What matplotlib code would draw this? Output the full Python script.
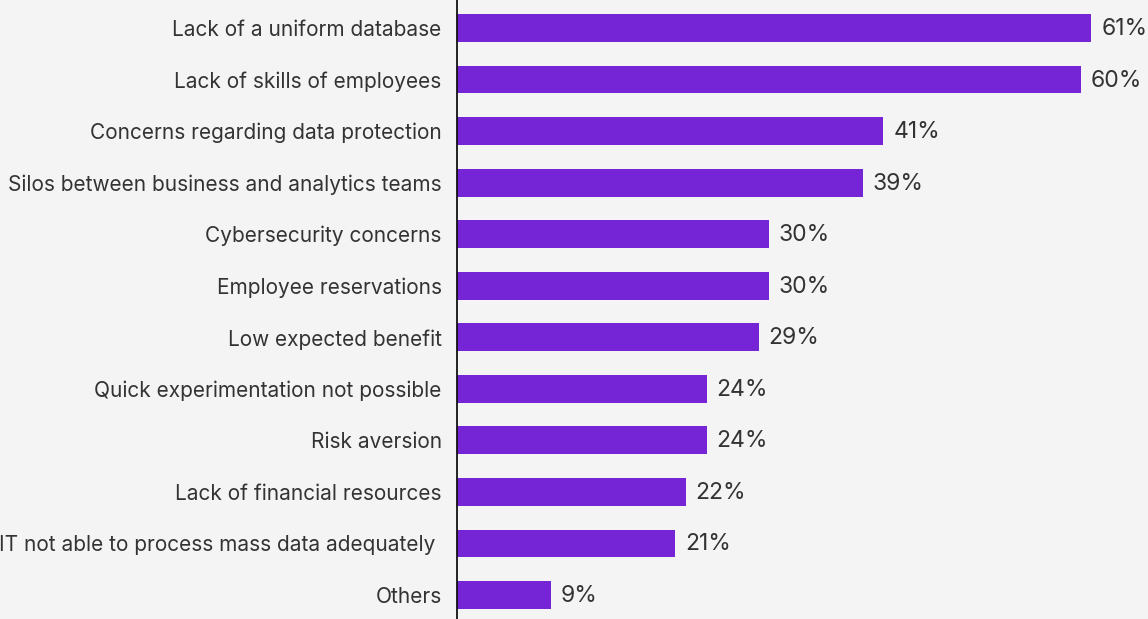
import matplotlib.pyplot as plt

categories = [
    "Lack of a uniform database",
    "Lack of skills of employees",
    "Concerns regarding data protection",
    "Silos between business and analytics teams",
    "Cybersecurity concerns",
    "Employee reservations",
    "Low expected benefit",
    "Quick experimentation not possible",
    "Risk aversion",
    "Lack of financial resources",
    "IT not able to process mass data adequately ",
    "Others",
]
values = [61, 60, 41, 39, 30, 30, 29, 24, 24, 22, 21, 9]

bg = "#f4f4f4"
bar_color = "#7524d6"
text_color = "#333333"

plt.rcParams['font.family'] = ['Inter', 'DejaVu Sans']

fig = plt.figure(figsize=(11.48, 6.19), dpi=100, facecolor=bg)
ax = fig.add_axes([457 / 1148, 0, 691 / 1148, 1])
ax.set_facecolor(bg)

y = list(range(len(categories)))
ax.barh(y, values, height=0.54, color=bar_color)

# value labels to the right of each bar
for yi, v in zip(y, values):
    ax.text(v + 0.95, yi + 0.02, f"{v}%", va="center", ha="left",
            fontsize=16.5, color=text_color)

ax.set_xlim(0, 691 / 10.4)
ax.set_ylim(len(categories) - 1 + 0.466, -0.543)
ax.set_yticks(y)
ax.set_yticklabels(categories, fontsize=15, color=text_color)
ax.tick_params(axis="y", length=0, pad=11)
ax.set_xticks([])

for s in ["top", "right", "bottom"]:
    ax.spines[s].set_visible(False)
ax.spines["left"].set_color("#111111")
ax.spines["left"].set_linewidth(1.3)

fig.savefig("out.png", dpi=100, facecolor=bg)
